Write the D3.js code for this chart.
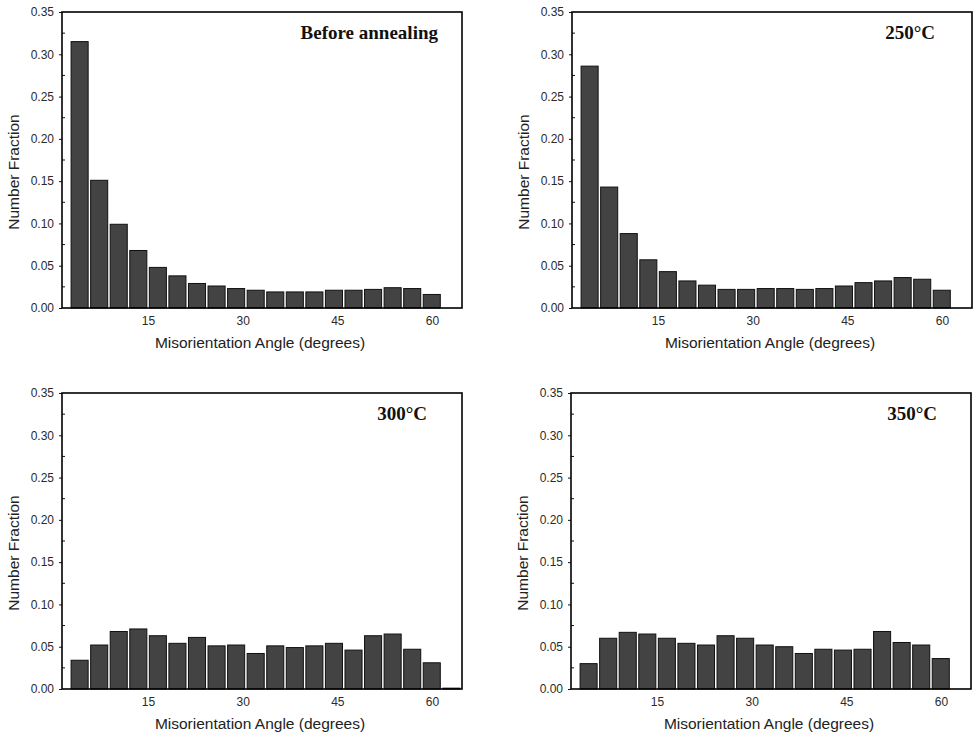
<!DOCTYPE html>
<html>
<head>
<meta charset="utf-8">
<script src="https://cdn.jsdelivr.net/npm/d3@7"></script>
<style>
  body { margin: 0; background: #fff; }
  .tick text { font-family: "Liberation Sans", Arial, sans-serif; font-size: 12px; fill: #2a2a2a; }
  .axis-title { font-family: "Liberation Sans", Arial, sans-serif; font-size: 15.5px; fill: #222; }
  .panel-title { font-family: "Liberation Serif", "Times New Roman", serif; font-weight: bold; font-size: 19px; fill: #111; }
</style>
</head>
<body>
<div id="chart"></div>
<script>
// misorientation bins (centre angle, degrees)
const binCenters = [4.2, 7.3, 10.4, 13.5, 16.6, 19.7, 22.8, 25.9, 29.0, 32.1,
                    35.2, 38.3, 41.4, 44.5, 47.6, 50.7, 53.8, 56.9, 60.0, 63.1];

const beforeAnnealing = [0.315, 0.151, 0.099, 0.068, 0.048, 0.038, 0.029, 0.026, 0.023, 0.021,
                         0.019, 0.019, 0.019, 0.021, 0.021, 0.022, 0.024, 0.023, 0.016, 0];
const anneal250 = [0.286, 0.143, 0.088, 0.057, 0.043, 0.032, 0.027, 0.022, 0.022, 0.023,
                   0.023, 0.022, 0.023, 0.026, 0.030, 0.032, 0.036, 0.034, 0.021, 0];
const anneal300 = [0.034, 0.052, 0.068, 0.071, 0.063, 0.054, 0.061, 0.051, 0.052, 0.042,
                   0.051, 0.049, 0.051, 0.054, 0.046, 0.063, 0.065, 0.047, 0.031, 0.001];
const anneal350 = [0.030, 0.060, 0.067, 0.065, 0.060, 0.054, 0.052, 0.063, 0.060, 0.052,
                   0.050, 0.042, 0.047, 0.046, 0.047, 0.068, 0.055, 0.052, 0.036, 0];

const panelTitles = ['Before annealing', '250\u00B0C', '300\u00B0C', '350\u00B0C'];
const xTicks = [15, 30, 45, 60];
const yTicks = [0, 0.05, 0.10, 0.15, 0.20, 0.25, 0.30, 0.35];
const yMinorTicks = [0.025, 0.075, 0.125, 0.175, 0.225, 0.275, 0.325];

const xLabel = 'Misorientation Angle (degrees)';
const yLabel = 'Number Fraction';

// layout of the four panels (plot area corners)
const panels = [
    {values: beforeAnnealing, left: 62,  top: 12,  titleRight: 24},
    {values: anneal250,       left: 572, top: 12,  titleRight: 37},
    {values: anneal300,       left: 62,  top: 393, titleRight: 35},
    {values: anneal350,       left: 571, top: 393, titleRight: 34}
];
const plotW = 400, plotH = 296;
const binWidth = 3.1;

const svg = d3.select('#chart').append('svg')
    .attr('width', 977)
    .attr('height', 739);

panels.forEach((p, k) => {
    const g = svg.append('g')
        .attr('transform', `translate(${p.left}, ${p.top})`);

    const x = d3.scaleLinear().domain([1.37, 64.75]).range([0, plotW]);
    const y = d3.scaleLinear().domain([0, 0.35]).range([plotH, 0]);

    // bars
    const bw = x(binWidth) - x(0);
    g.selectAll('rect.bar')
        .data(p.values.map((v, i) => ({angle: binCenters[i], v: v})))
        .join('rect')
            .attr('class', 'bar')
            .attr('x', d => x(d.angle) - bw / 2 + 1)
            .attr('width', bw - 2.5)
            .attr('y', d => y(d.v))
            .attr('height', d => plotH - y(d.v))
            .attr('fill', '#434343')
            .attr('stroke', '#111')
            .attr('stroke-width', 1);

    // y axis
    const yAxis = d3.axisLeft(y).tickValues(yTicks).tickSize(3).tickPadding(5)
        .tickFormat(d3.format('.2f'));
    g.append('g').call(yAxis)
        .call(a => a.select('.domain').remove())
        .call(a => a.selectAll('.tick line').attr('stroke', '#111'));

    // minor ticks, inward
    g.append('g').selectAll('line')
        .data(yMinorTicks)
        .join('line')
            .attr('x1', 0).attr('x2', 3)
            .attr('y1', d => y(d)).attr('y2', d => y(d))
            .attr('stroke', '#111');

    // x axis
    const xAxis = d3.axisBottom(x).tickValues(xTicks).tickSize(0).tickPadding(7);
    g.append('g')
        .attr('transform', `translate(0, ${plotH})`)
        .call(xAxis)
        .call(a => a.select('.domain').remove())
        .call(a => a.selectAll('.tick text').attr('dy', '0.8em'));

    // frame
    g.append('rect')
        .attr('width', plotW).attr('height', plotH)
        .attr('fill', 'none')
        .attr('stroke', '#000')
        .attr('stroke-width', 1.6);

    g.append('text')
        .attr('class', 'axis-title')
        .attr('text-anchor', 'middle')
        .attr('x', 198)
        .attr('y', plotH + 40)
        .text(xLabel);

    g.append('text')
        .attr('class', 'axis-title')
        .attr('text-anchor', 'middle')
        .attr('transform', `translate(-43, 160) rotate(-90)`)
        .text(yLabel);

    g.append('text')
        .attr('class', 'panel-title')
        .attr('text-anchor', 'end')
        .attr('x', plotW - p.titleRight)
        .attr('y', 27)
        .text(panelTitles[k]);
});
</script>
</body>
</html>
